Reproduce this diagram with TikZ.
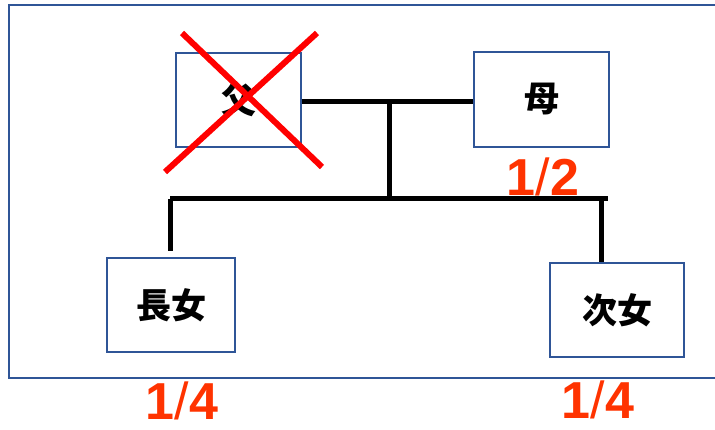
\documentclass[tikz,border=0pt]{standalone}
\usepackage{fontspec}
\setmainfont{Liberation Sans}
\newfontfamily\cjk{Noto Sans CJK JP}
\definecolor{frameblue}{RGB}{47,85,151}
\definecolor{fracred}{RGB}{255,51,0}
\newcommand{\thinslash}{{\mdseries/}}
\begin{document}
\begin{tikzpicture}[x=1pt,y=1pt,
  person/.style={draw=frameblue, line width=1.8pt, fill=white, font=\cjk\bfseries\fontsize{35}{38}\selectfont},
  link/.style={line width=5pt, black},
  frac/.style={text=fracred, font=\bfseries\fontsize{52}{56}\selectfont, inner sep=0pt},
  cross/.style={draw=red, line width=6pt}]
\useasboundingbox (0,0) rectangle (715,429);
\draw[frameblue, line width=1.8pt] (720,424) -- (9,424) -- (9,51) -- (720,51);
\node[person, minimum width=125pt, minimum height=94pt] (father) at (238.5,329) {父};
\node[person, minimum width=135pt, minimum height=95pt] (mother) at (541.5,329.5) {母};
\node[person, minimum width=128pt, minimum height=94pt] (elder) at (171,124) {長女};
\node[person, minimum width=134pt, minimum height=94pt] (younger) at (617,119) {次女};
\coordinate (cp) at (389,327);
\coordinate (sib) at (389,230);
\coordinate (sl) at (170,230);
\coordinate (sr) at (601,230);
\coordinate (send) at (608,230);
\coordinate (l1) at (170,178);
\draw[link] (father.east |- cp) -- (mother.west |- cp);
\draw[link] (cp) -- (sib);
\draw[link] (sl) -- (send);
\draw[link] (sl) -- (l1);
\draw[link] (sr) -- (younger.north -| sr);
\coordinate (x1a) at (182,396);
\coordinate (x1b) at (322,262);
\coordinate (x2a) at (317,396);
\coordinate (x2b) at (165,257);
\draw[cross] (x1a) -- (x1b);
\draw[cross] (x2a) -- (x2b);
\node[frac] (fm) at (543,252) {1\thinslash2};
\node[frac] (fe) at (182,28) {1\thinslash4};
\node[frac] (fy) at (598,29) {1\thinslash4};
\end{tikzpicture}
\end{document}
